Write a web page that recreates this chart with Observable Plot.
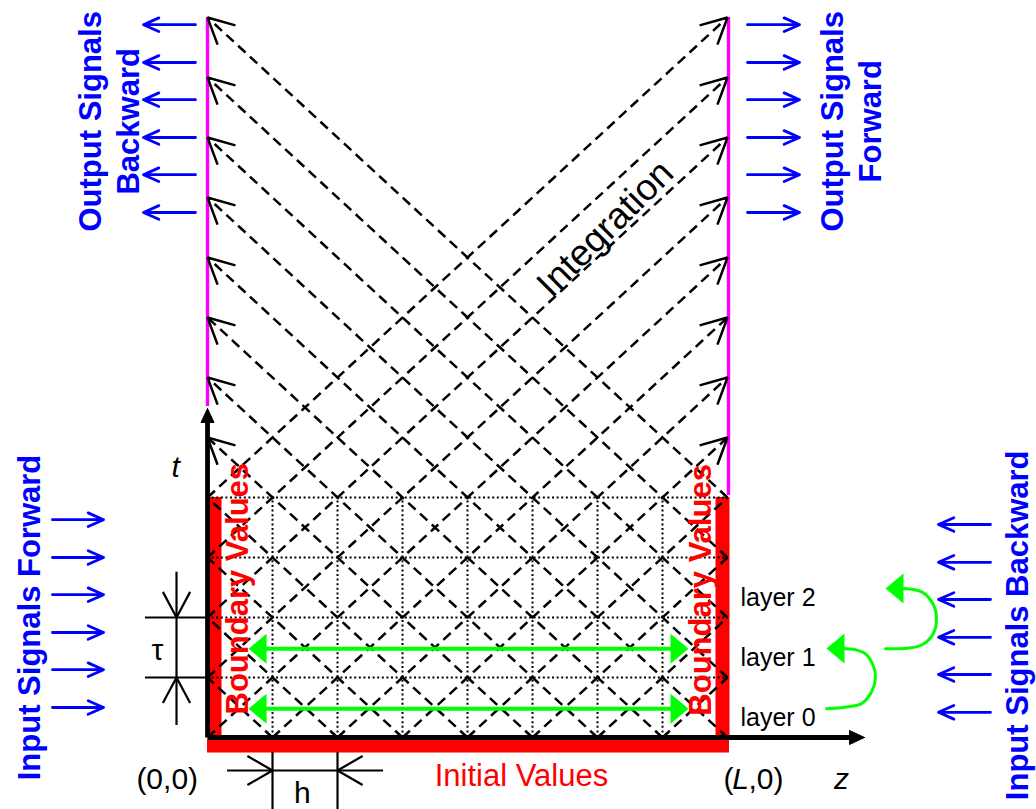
<!DOCTYPE html>
<html><head><meta charset="utf-8">
<script src="https://cdn.jsdelivr.net/npm/d3@7"></script>
<script src="https://cdn.jsdelivr.net/npm/@observablehq/plot@0.6"></script>
<style>html,body{margin:0;padding:0;background:#fff;overflow:hidden}#chart svg{display:block}</style>
</head><body><div id="chart"></div>
<script>
// ---------- data (z in units of h, t in units of tau) ----------
const zNodes = [0, 1, 2, 3, 4, 5, 6, 7, 8];
const tLayers = [0, 1, 2, 3, 4];
const tTop = 12;
const zL = 8;

// forward characteristics [z0, t0, z1, t1]
const forwardChars = [
  [0, 4, 8, 12], [0, 3, 8, 11], [0, 2, 8, 10], [0, 1, 8, 9], [0, 0, 8, 8],
  [1, 0, 8, 7], [2, 0, 8, 6], [3, 0, 8, 5], [4, 0, 8, 4], [5, 0, 8, 3], [6, 0, 8, 2], [7, 0, 8, 1]
];
// backward characteristics [z0, t0, z1, t1]
const backwardChars = [
  [8, 4, 0, 12], [8, 3, 0, 11], [8, 2, 0, 10], [8, 1, 0, 9], [8, 0, 0, 8],
  [7, 0, 0, 7], [6, 0, 0, 6], [5, 0, 0, 5], [4, 0, 0, 4], [3, 0, 0, 3], [2, 0, 0, 2], [1, 0, 0, 1]
];

// blue signal arrows: rows (t) and [tail z, tip z]
const outputRows = [11.88, 11.25, 10.63, 10.0, 9.38, 8.75];
const inFwdRows = [3.63, 3.0, 2.38, 1.75, 1.13, 0.5];
const inBwdRows = [3.55, 2.92, 2.3, 1.67, 1.05, 0.42];
const outBwdZ = [-0.185, -0.985];
const outFwdZ = [8.308, 9.108];
const inFwdZ = [-2.385, -1.6];
const inBwdZ = [12.046, 11.246];

// green transfer arrows
const greenRows = [0.48, 1.48];
const greenZ = [0.631, 7.4];
const curve1 = [[9.523, 0.478], [9.892, 0.517], [10.072, 0.572], [10.226, 0.783], [10.277, 1.005], [10.242, 1.2], [10.123, 1.395], [9.969, 1.462], [9.769, 1.483]];
const curve2 = [[10.431, 1.478], [10.765, 1.488], [10.995, 1.545], [11.165, 1.728], [11.215, 1.978], [11.165, 2.217], [10.995, 2.422], [10.708, 2.483]];
const curveTips = [[9.523, 1.483], [10.431, 2.483]];

// axes
const tAxisTip = [0, 5.483];
const zAxisTip = [10.108, 0];

// dimension markers
const tauZ = -0.477, tauSpan = [0.2, 2.755], tauTicks = [1, 2], tauTickZ = [-0.954, 0];
const hT = -0.55, hSpan = [0.308, 2.708], hTicks = [1, 2], hTickT = [-0.25, -1.25];

// labels
const blueLabels = [
  {z: -1.538, t: 10.27, text: "Output Signals\nBackward"},
  {z: 9.877, t: 10.27, text: "Output Signals\nForward"},
  {z: -2.769, t: 2.0, text: "Input Signals Forward"},
  {z: 12.43, t: 1.87, text: "Input Signals Backward"}
];
const boundaryLabels = [
  {z: 0.477, t: 2.48, text: "Boundary Values"},
  {z: 7.6, t: 2.46, text: "Boundary Values"}
];
const layerLabels = [
  {z: 8.2, t: 0.33, text: "layer 0"},
  {z: 8.2, t: 1.33, text: "layer 1"},
  {z: 8.2, t: 2.33, text: "layer 2"}
];
const plainLabels = [
  {z: -0.62, t: -0.7, text: "(0,0)"},
  {z: 1.46, t: -0.93, text: "h"},
  {z: -0.77, t: 1.45, text: "τ"}
];
const italicLabels = [
  {z: -0.49, t: 4.5, text: "t"},
  {z: 9.754, t: -0.7, text: "z"}
];
const initialLabel = {z: 4.83, t: -0.65, text: "Initial Values"};
const cornerL = {z: 8.2, t: -0.7};
const integrationLabel = {z: 6.12, t: 8.48, text: "Integration"};

// ---------- scales ----------
const W = 1036, H = 809;
const xDomain = [-3.185, 12.754];
const yDomain = [-1.2, 12.283];
const KX = W / (xDomain[1] - xDomain[0]);
const KY = H / (yDomain[1] - yDomain[0]);

// helpers: shift a data point by pixel offsets (screen y down)
const off = ([z, t], dx, dy) => [z + dx / KX, t - dy / KY];
const rad = (d) => d * Math.PI / 180;
function openHead(tip, backDeg, len, halfDeg) {
  const a1 = rad(backDeg - halfDeg), a2 = rad(backDeg + halfDeg);
  return [off(tip, len * Math.cos(a1), len * Math.sin(a1)), tip, off(tip, len * Math.cos(a2), len * Math.sin(a2))];
}
function filledHead(tip, backDeg, len, hw) {
  const a = rad(backDeg);
  const bx = len * Math.cos(a), by = len * Math.sin(a);
  const px = -Math.sin(a) * hw, py = Math.cos(a) * hw;
  return [tip, off(tip, bx + px, by + py), off(tip, bx - px, by - py), tip];
}
const rows = (polys) => polys.flatMap((pts, i) => pts.map(([x, y]) => ({x, y, id: i})));
const backAngle = (c) => Math.atan2(-(c[1] - c[3]) * KY, (c[0] - c[2]) * KX) * 180 / Math.PI;

// arrowheads at output boundaries
const outHeads = [...forwardChars, ...backwardChars]
  .filter((c) => c[3] >= 5)
  .map((c) => openHead([c[2], c[3]], backAngle(c), 29, 27));

const dimHeads = [
  openHead([tauZ, tauTicks[1]], -90, 29, 28),
  openHead([tauZ, tauTicks[0]], 90, 29, 28),
  openHead([hTicks[0], hT], 180, 29, 30),
  openHead([hTicks[1], hT], 0, 29, 30)
];

const axisHeads = [filledHead(tAxisTip, 90, 14, 6.5), filledHead(zAxisTip, 180, 15, 7)];

const greenHeads = [
  ...greenRows.flatMap((t) => [filledHead([greenZ[0], t], 0, 18, 15), filledHead([greenZ[1], t], 180, 18, 15)]),
  ...curveTips.map((p) => filledHead(p, 0, 18, 15))
];
const greenShafts = greenRows.map((t) => [off([greenZ[0], t], 12, 0), off([greenZ[1], t], -12, 0)]);

const BLUE = "#0000ff", RED = "#ff0000", GREEN = "#00ff00", MAG = "#ff00ff";
const FONT = "'Liberation Sans', Arial, Helvetica, sans-serif";

const blueArrow = (data, zz) => Plot.arrow(data, {
  x1: zz[0], x2: zz[1], y1: (d) => d, y2: (d) => d,
  stroke: BLUE, strokeWidth: 2.8, headAngle: 48, headLength: 9
});

const chart = Plot.plot({
  width: W, height: H, margin: 0,
  x: {domain: xDomain, axis: null},
  y: {domain: yDomain, axis: null},
  style: {background: "white", fontFamily: FONT, overflow: "visible"},
  marks: [
    // red boundary / initial bars
    Plot.ruleX([0], {y1: 0, y2: 4, stroke: RED, strokeWidth: 14, dx: 7}),
    Plot.ruleX([zL], {y1: 0, y2: 4, stroke: RED, strokeWidth: 14, dx: -5}),
    Plot.ruleY([0], {x1: 0, x2: zL, stroke: RED, strokeWidth: 13, dy: 8.5, insetRight: -2}),
    // dotted grid
    Plot.ruleY(tLayers.slice(1), {x1: 0, x2: zL, stroke: "black", strokeWidth: 2, strokeDasharray: "2,2.6"}),
    Plot.ruleX(zNodes.slice(1, -1), {y1: 0, y2: 4, stroke: "black", strokeWidth: 2, strokeDasharray: "2,2.6"}),
    // characteristics
    Plot.link([...forwardChars, ...backwardChars], {
      x1: (d) => d[0], y1: (d) => d[1], x2: (d) => d[2], y2: (d) => d[3],
      stroke: "black", strokeWidth: 2.5, strokeDasharray: "10,6"
    }),
    // magenta output boundaries
    Plot.ruleX([0], {y1: tAxisTip[1], y2: tTop, stroke: MAG, strokeWidth: 3.4, insetTop: -2}),
    Plot.ruleX([zL], {y1: 4, y2: tTop, stroke: MAG, strokeWidth: 3.4, insetTop: -2, dx: 1}),
    // arrowheads on characteristics
    Plot.line(rows(outHeads), {x: "x", y: "y", z: "id", stroke: "black", strokeWidth: 2.5, strokeLinejoin: "miter", strokeLinecap: "butt"}),
    // axes
    Plot.link([[[0, 0], off(tAxisTip, 0, 10)], [[0, 0], off(zAxisTip, -10, 0)]], {
      x1: (d) => d[0][0], y1: (d) => d[0][1], x2: (d) => d[1][0], y2: (d) => d[1][1],
      stroke: "black", strokeWidth: 4.8
    }),
    Plot.line(rows(axisHeads), {x: "x", y: "y", z: "id", fill: "black", stroke: "black", strokeWidth: 1}),
    // tau dimension
    Plot.ruleY(tauTicks, {x1: tauTickZ[0], x2: tauTickZ[1], stroke: "black", strokeWidth: 2.2}),
    Plot.ruleX([tauZ], {y1: tauSpan[0], y2: tauSpan[1], stroke: "black", strokeWidth: 2.2}),
    // h dimension
    Plot.ruleX(hTicks, {y1: hTickT[0], y2: hTickT[1], stroke: "black", strokeWidth: 2.2}),
    Plot.ruleY([hT], {x1: hSpan[0], x2: hSpan[1], stroke: "black", strokeWidth: 2.2}),
    Plot.line(rows(dimHeads), {x: "x", y: "y", z: "id", stroke: "black", strokeWidth: 2.2, strokeLinejoin: "miter", strokeLinecap: "butt"}),
    // green arrows
    Plot.link(greenShafts, {
      x1: (d) => d[0][0], y1: (d) => d[0][1], x2: (d) => d[1][0], y2: (d) => d[1][1],
      stroke: GREEN, strokeWidth: 4
    }),
    Plot.line(rows([curve1, curve2]), {x: "x", y: "y", z: "id", stroke: GREEN, strokeWidth: 3, curve: "catmull-rom"}),
    Plot.line(rows(greenHeads), {x: "x", y: "y", z: "id", fill: GREEN, stroke: "none"}),
    // blue signal arrows
    blueArrow(outputRows, outBwdZ),
    blueArrow(outputRows, outFwdZ),
    blueArrow(inFwdRows, inFwdZ),
    blueArrow(inBwdRows, inBwdZ),
    // texts
    Plot.text(blueLabels, {x: "z", y: "t", text: "text", rotate: -90, fill: BLUE, fontSize: 31, fontWeight: "bold", lineHeight: 1.22}),
    Plot.text(boundaryLabels, {x: "z", y: "t", text: "text", rotate: -90, fill: RED, fontSize: 31, fontWeight: "bold"}),
    Plot.text(layerLabels, {x: "z", y: "t", text: "text", fill: "black", fontSize: 25, textAnchor: "start"}),
    Plot.text(plainLabels, {x: "z", y: "t", text: "text", fill: "black", fontSize: 30}),
    Plot.text(italicLabels, {x: "z", y: "t", text: "text", fill: "black", fontSize: 30, fontStyle: "italic"}),
    Plot.text([initialLabel], {x: "z", y: "t", text: "text", fill: RED, fontSize: 31}),
    Plot.text([cornerL], {x: "z", y: "t", text: () => "(", fill: "black", fontSize: 30, textAnchor: "end", dx: -7}),
    Plot.text([cornerL], {x: "z", y: "t", text: () => "L", fill: "black", fontSize: 30, fontStyle: "italic"}),
    Plot.text([cornerL], {x: "z", y: "t", text: () => ",0)", fill: "black", fontSize: 30, textAnchor: "start", dx: 8}),
    Plot.text([integrationLabel], {x: "z", y: "t", text: "text", fill: "black", fontSize: 37, rotate: -45})
  ]
});
document.getElementById("chart").append(chart);
</script></body></html>
